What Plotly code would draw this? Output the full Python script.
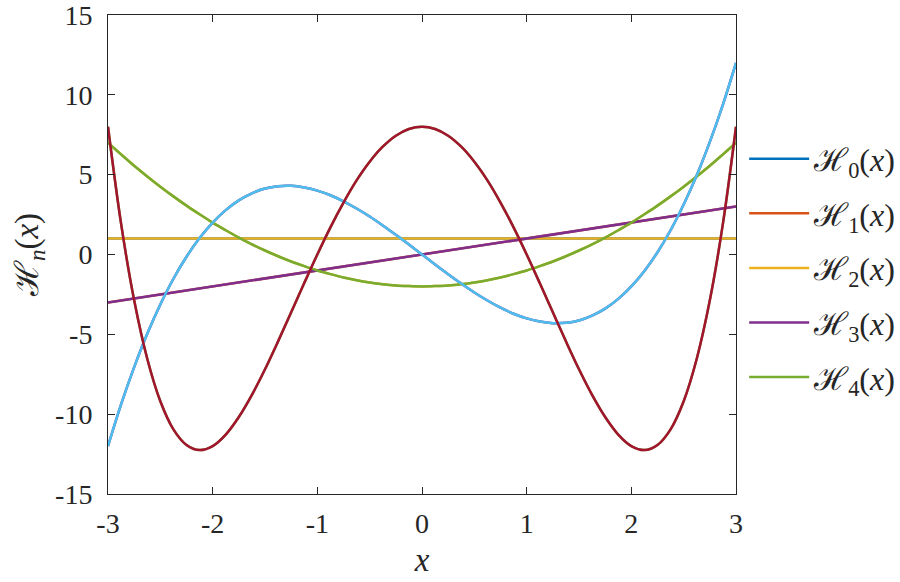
import plotly.graph_objects as go

# sample grid (step 0.125)
x = [-3, -2.875, -2.75, -2.625, -2.5, -2.375, -2.25, -2.125, -2, -1.875, -1.75, -1.625,
     -1.5, -1.375, -1.25, -1.125, -1, -0.875, -0.75, -0.625, -0.5, -0.375, -0.25, -0.125,
     0, 0.125, 0.25, 0.375, 0.5, 0.625, 0.75, 0.875, 1, 1.125, 1.25, 1.375, 1.5, 1.625,
     1.75, 1.875, 2, 2.125, 2.25, 2.375, 2.5, 2.625, 2.75, 2.875, 3]

x_line = [-3, 3]
h0 = [1, 1]
h1 = [-3, 3]
h2 = [7, 6.27, 5.56, 4.89, 4.25, 3.64, 3.06, 2.52, 2, 1.52, 1.06, 0.64, 0.25, -0.11,
      -0.44, -0.73, -1, -1.23, -1.44, -1.61, -1.75, -1.86, -1.94, -1.98, -2, -1.98,
      -1.94, -1.86, -1.75, -1.61, -1.44, -1.23, -1, -0.73, -0.44, -0.11, 0.25, 0.64,
      1.06, 1.52, 2, 2.52, 3.06, 3.64, 4.25, 4.89, 5.56, 6.27, 7]
h3 = [-12, -9.39, -7.05, -4.96, -3.13, -1.52, -0.14, 1.03, 2, 2.78, 3.39, 3.83, 4.13,
      4.28, 4.30, 4.20, 4, 3.71, 3.33, 2.88, 2.38, 1.82, 1.23, 0.62, 0, -0.62, -1.23,
      -1.82, -2.38, -2.88, -3.33, -3.71, -4, -4.20, -4.30, -4.28, -4.13, -3.83, -3.39,
      -2.78, -2, -1.03, 0.14, 1.52, 3.13, 4.96, 7.05, 9.39, 12]
h4 = [8, 1.93, -2.87, -6.53, -9.19, -10.95, -11.93, -12.25, -12, -11.28, -10.18, -8.79,
      -7.19, -5.44, -3.62, -1.79, 0, 1.70, 3.25, 4.64, 5.81, 6.75, 7.44, 7.86, 8, 7.86,
      7.44, 6.75, 5.81, 4.64, 3.25, 1.70, 0, -1.79, -3.62, -5.44, -7.19, -8.79, -10.18,
      -11.28, -12, -12.25, -11.93, -10.95, -9.19, -6.53, -2.87, 1.93, 8]

x_ticks = [-3, -2, -1, 0, 1, 2, 3]
x_ticktext = ['-3', '-2', '-1', '0', '1', '2', '3']
y_ticks = [-15, -10, -5, 0, 5, 10, 15]
y_ticktext = ['-15', '-10', '-5', '0', '5', '10', '15']

names = ['ℋ<sub>0</sub>(<i>x</i>)', 'ℋ<sub>1</sub>(<i>x</i>)', 'ℋ<sub>2</sub>(<i>x</i>)',
         'ℋ<sub>3</sub>(<i>x</i>)', 'ℋ<sub>4</sub>(<i>x</i>)']
legend_colors = ['#0072BD', '#D95319', '#EDB120', '#7E2F8E', '#77AC30']
curve_colors = ['#EDB120', '#7E2F8E', '#77AC30', '#4DBEEE', '#A2142F']

curves = [(x_line, h0), (x_line, h1), (x, h2), (x, h3), (x, h4)]

FONT = 'Liberation Serif'

fig = go.Figure()

# base curves carry the legend
for i, (xs, ys) in enumerate(curves):
    fig.add_trace(go.Scatter(
        x=xs, y=ys, mode='lines', name=names[i], legendgroup=str(i),
        line=dict(color=legend_colors[i], width=2.5, shape='spline'),
    ))

# overlay curves as seen on top
for i, (xs, ys) in enumerate(curves):
    fig.add_trace(go.Scatter(
        x=xs, y=ys, mode='lines', showlegend=False,
        line=dict(color=curve_colors[i], width=2.5, shape='spline'),
    ))

axis_common = dict(
    showgrid=False, zeroline=False, showline=True, linecolor='#262626', linewidth=1,
    mirror='ticks', ticks='inside', ticklen=7, tickcolor='#262626', automargin=False,
    ticklabeloverflow='allow',
    tickfont=dict(family=FONT, size=28, color='#262626'),
)

fig.update_layout(
    width=900, height=582,
    margin=dict(l=108, r=164, t=15, b=88, autoexpand=False),
    paper_bgcolor='white', plot_bgcolor='white',
    xaxis=dict(range=[-3, 3], tickvals=x_ticks, ticktext=x_ticktext, ticklabelstandoff=4,
               title=dict(text='<i>x</i>', font=dict(family=FONT, size=33, color='#262626'),
                          standoff=10),
               **axis_common),
    yaxis=dict(range=[-15, 15], tickvals=y_ticks, ticktext=y_ticktext, ticklabelstandoff=9,
               title=dict(text='ℋ<sub><i>n</i></sub>(<i>x</i>)',
                          font=dict(family=FONT, size=33, color='#262626'),
                          standoff=6),
               **axis_common),
    legend=dict(x=1.013, xanchor='left', y=0.472, yanchor='middle', itemwidth=60,
                font=dict(family=FONT, size=32, color='#262626'),
                tracegroupgap=10, bgcolor='rgba(0,0,0,0)'),
)

fig.write_html("out.html", config={'displayModeBar': False},
               post_script="document.body.style.margin='0';")
